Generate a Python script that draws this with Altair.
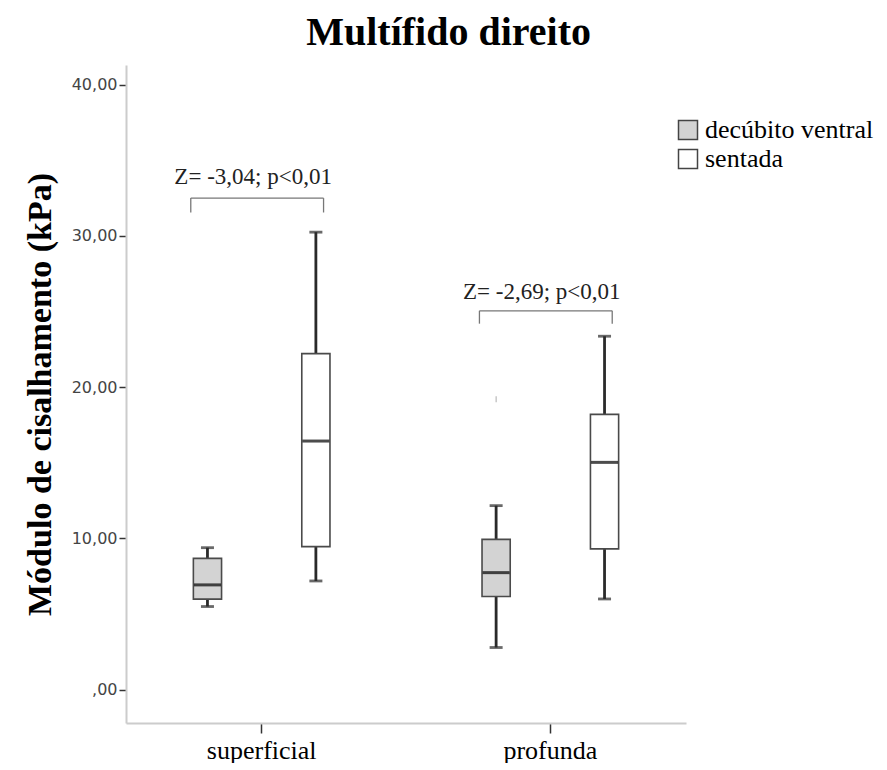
import altair as alt
import pandas as pd

# ---- data ----
categories = ["superficial", "profunda"]
groups = ["decúbito ventral", "sentada"]

box_category = ["superficial", "superficial", "profunda", "profunda"]
box_group = ["decúbito ventral", "sentada", "decúbito ventral", "sentada"]
box_min = [5.50, 7.19, 2.79, 6.00]
box_q1 = [5.99, 9.46, 6.16, 9.31]
box_median = [6.93, 16.44, 7.74, 15.03]
box_q3 = [8.68, 22.22, 9.94, 18.20]
box_max = [9.39, 30.25, 12.17, 23.37]

outlier_category = ["profunda"]
outlier_group = ["decúbito ventral"]
outlier_value = [19.2]

annot_category = ["superficial", "profunda"]
annot_text = ["Z= -3,04; p<0,01", "Z= -2,69; p<0,01"]
annot_text_y = [33.9, 26.3]
annot_bracket_y = [32.5, 25.05]
annot_bracket_low = [31.55, 24.2]

boxes = pd.DataFrame({
    "category": box_category, "group": box_group,
    "min": box_min, "q1": box_q1, "median": box_median,
    "q3": box_q3, "max": box_max,
})
outliers = pd.DataFrame({"category": outlier_category, "group": outlier_group,
                         "value": outlier_value})
annots = pd.DataFrame({"category": annot_category, "text": annot_text,
                       "ty": annot_text_y, "by": annot_bracket_y,
                       "blow": annot_bracket_low})

SERIF = "Liberation Serif"

xscale = alt.Scale(domain=categories, paddingInner=0.2, paddingOuter=0.07)
xaxis = alt.Axis(labelFont=SERIF, labelFontSize=26, labelColor="black",
                 labelAngle=0, labelPadding=4, tickColor="#333", tickSize=10,
                 tickWidth=1.5, domainColor="#cccccc", domainWidth=2, title=None)
xoff = alt.XOffset("group:N", sort=groups,
                   scale=alt.Scale(domain=groups, paddingInner=0.74, paddingOuter=0.435))

yscale = alt.Scale(domain=[-2.2, 41.3], nice=False, zero=False)
yaxis = alt.Axis(values=[0, 10, 20, 30, 40], grid=False,
                 labelExpr="datum.value == 0 ? ',00' : replace(format(datum.value, '.2f'), '.', ',')",
                 labelFont="DejaVu Sans", labelFontSize=16, labelColor="#444",
                 labelPadding=2, tickColor="#333", tickSize=7, tickWidth=1.5,
                 domainColor="#cccccc", domainWidth=2,
                 titleFont=SERIF, titleFontSize=34, titleFontWeight="bold",
                 titleColor="black", titlePadding=14)
YTITLE = "Módulo de cisalhamento (kPa)"


def X(bp=None):
    if bp is None:
        return alt.X("category:N", sort=categories, scale=xscale, axis=xaxis, title=None)
    return alt.X("category:N", sort=categories, scale=xscale, axis=xaxis, title=None,
                 bandPosition=bp)


def Y(field):
    return alt.Y(f"{field}:Q", scale=yscale, axis=yaxis, title=YTITLE)


base = alt.Chart(boxes)

whisk_lo = base.mark_rule(color="#2a2a2a", strokeWidth=2.8).encode(
    x=X(), xOffset=xoff, y=Y("min"), y2="q1")
whisk_hi = base.mark_rule(color="#2a2a2a", strokeWidth=2.8).encode(
    x=X(), xOffset=xoff, y=Y("q3"), y2="max")
cap_lo = base.mark_tick(color="#2a2a2a", thickness=2.8, size=13).encode(
    x=X(), xOffset=xoff, y=Y("min"))
cap_hi = base.mark_tick(color="#2a2a2a", thickness=2.8, size=13).encode(
    x=X(), xOffset=xoff, y=Y("max"))
box = base.mark_bar(stroke="#4a4a4a", strokeWidth=1.6).encode(
    x=X(), xOffset=xoff, y=Y("q1"), y2="q3",
    fill=alt.Fill("group:N", sort=groups,
                  scale=alt.Scale(domain=groups, range=["#d3d3d3", "#ffffff"]),
                  legend=alt.Legend(title=None, orient="none", legendX=549, legendY=52,
                                    labelFont=SERIF, labelFontSize=26)))
med = base.mark_tick(color="black", thickness=3, size=27).encode(
    x=X(), xOffset=xoff, y=Y("median"))

out = alt.Chart(outliers).mark_tick(orient="vertical", size=6, thickness=1,
                                    color="#888").encode(
    x=X(), xOffset=xoff, y=Y("value"))

ab = alt.Chart(annots)
br_h = ab.mark_rule(color="#777", strokeWidth=1.3).encode(
    x=X(0.193), x2=alt.X2("category", bandPosition=0.768), y=Y("by"))
br_l = ab.mark_rule(color="#777", strokeWidth=1.3).encode(
    x=X(0.193), y=Y("blow"), y2="by")
br_r = ab.mark_rule(color="#777", strokeWidth=1.3).encode(
    x=X(0.768), y=Y("blow"), y2="by")
txt = ab.mark_text(font=SERIF, fontSize=23, color="#222", baseline="middle").encode(
    x=X(0.463), y=Y("ty"), text="text:N")

chart = alt.layer(whisk_lo, whisk_hi, cap_lo, cap_hi, box, med, out,
                  br_h, br_l, br_r, txt).properties(
    width=560, height=658,
    title=alt.TitleParams("Multífido direito", font=SERIF, fontSize=40,
                          fontWeight="bold", color="black", anchor="middle",
                          frame="bounds", offset=12),
    padding={"left": 15, "top": 5, "right": 0, "bottom": 0},
).configure_view(stroke=None).configure_legend(
    symbolType="square", symbolSize=361, symbolStrokeColor="#444",
    symbolStrokeWidth=1.5, labelFont=SERIF, labelFontSize=26, labelColor="black",
    labelOffset=4, rowPadding=3, padding=0, labelLimit=300)

chart.save("out.html", embed_options={"renderer": "svg", "actions": False})
